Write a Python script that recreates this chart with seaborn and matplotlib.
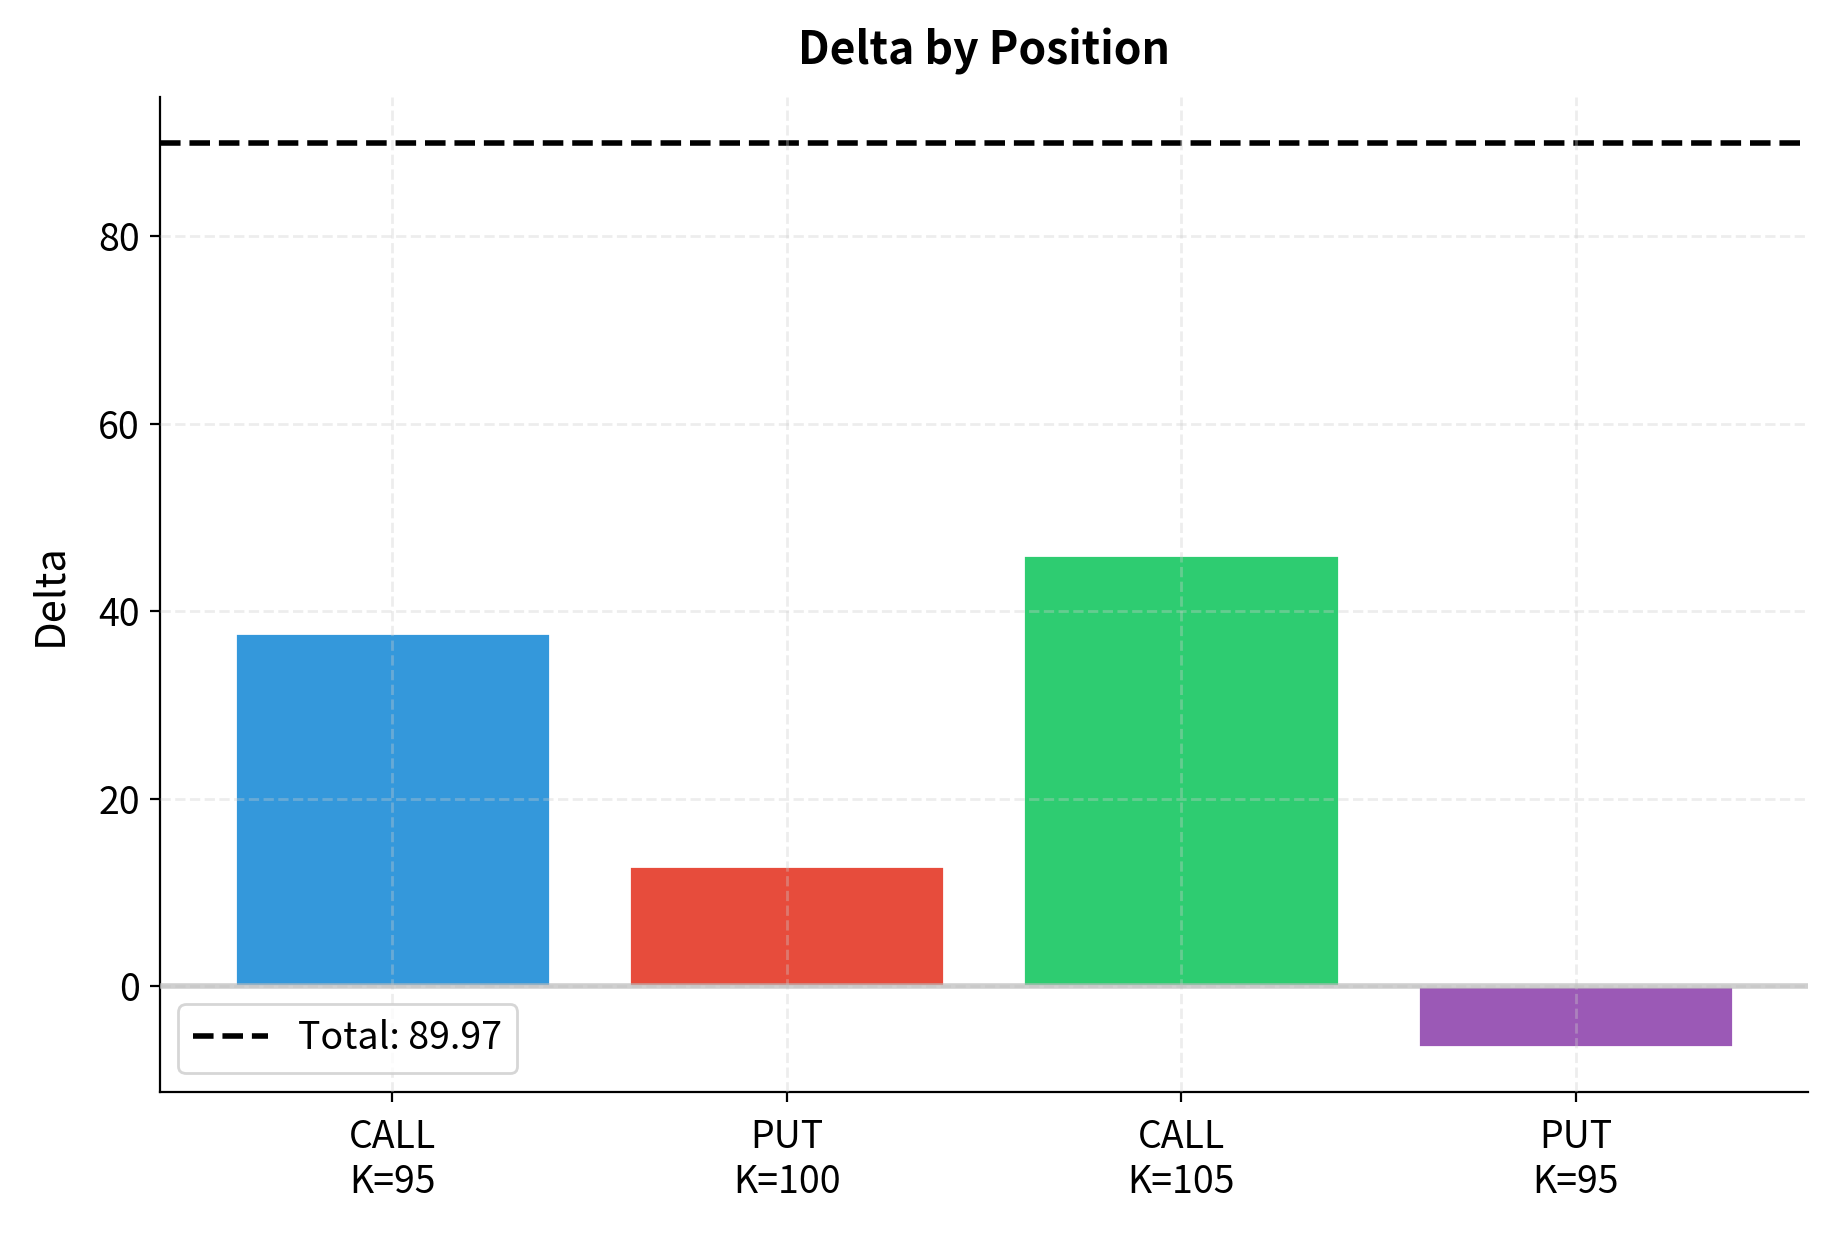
import matplotlib
matplotlib.use("Agg")
import matplotlib.pyplot as plt
import seaborn as sns
import pandas as pd

# Data
positions = ["CALL\nK=95", "PUT\nK=100", "CALL\nK=105", "PUT\nK=95"]
deltas = [37.7, 12.8, 46.0, -6.5]
total_delta = 89.97
bar_colors = ["#3498db", "#e74c3c", "#2ecc71", "#9b59b6"]


def plot_delta_by_position():

    sns.set_style("ticks", {
        "axes.edgecolor": "black",
        "text.color": "black",
        "axes.labelcolor": "black",
        "xtick.color": "black",
        "ytick.color": "black"
    })
    plt.rcParams["font.family"] = ["Noto Sans CJK JP", "DejaVu Sans"]

    df = pd.DataFrame({
        "Position": positions,
        "Delta": deltas
    })

    fig, ax = plt.subplots(figsize=(9.17, 6.17), dpi=200)

    sns.barplot(
        data=df,
        x="Position",
        y="Delta",
        hue="Position",
        palette=bar_colors,
        legend=False,
        saturation=1,
        width=0.8,
        ax=ax
    )

    ax.axhline(0, color="#bbbbbb", linewidth=2, alpha=0.7, zorder=3)

    ax.axhline(
        total_delta,
        color="black",
        linestyle="--",
        linewidth=2,
        label=f"Total: {total_delta:.2f}"
    )

    n = len(positions)
    ax.set_xlim(-0.59, n - 1 + 0.59)
    ax.autoscale(axis="y")

    ax.grid(True, linestyle="--", alpha=0.35, linewidth=1)
    ax.set_axisbelow(False)

    ax.set_title("Delta by Position", fontsize=16, fontweight="bold", pad=12)
    ax.set_xlabel("")
    ax.set_ylabel("Delta", fontsize=15, labelpad=10)
    ax.tick_params(labelsize=13.5)
    ax.tick_params(axis="x", pad=6)

    leg = ax.legend(loc="lower left", fontsize=13.5)
    leg.get_frame().set_edgecolor("#cccccc")

    sns.despine(ax=ax)

    plt.subplots_adjust(left=0.087, right=0.986, top=0.921, bottom=0.115)

    plt.savefig("out.png", dpi=200)


if __name__ == "__main__":
    plot_delta_by_position()
